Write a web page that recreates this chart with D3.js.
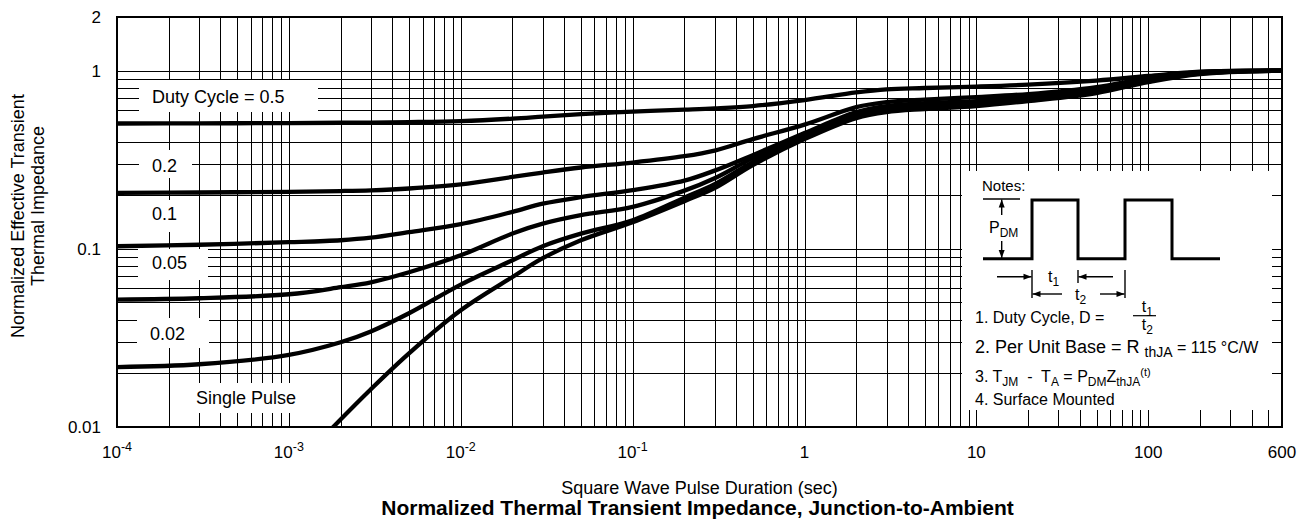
<!DOCTYPE html>
<html><head><meta charset="utf-8">
<script src="https://cdn.jsdelivr.net/npm/d3@7"></script>
<style>
body{margin:0;background:#fff}
text{font-family:"Liberation Sans",Arial,Helvetica,sans-serif;fill:#000;white-space:pre}
</style>
</head><body>
<svg id="chart" width="1307" height="527"></svg>
<script>
// ---------- data ----------
const pulseTimes = [1e-4,3e-4,1e-3,2e-3,3e-3,5e-3,1e-2,2e-2,3e-2,5e-2,0.1,0.2,0.3,0.5,1,2,3,5,10,20,50,100,200,600];
const duty05  = [0.505,0.506,0.508,0.510,0.511,0.514,0.521,0.538,0.552,0.570,0.589,0.604,0.614,0.633,0.684,0.755,0.786,0.799,0.814,0.835,0.880,0.933,0.986,1.0];
const duty02  = [0.206,0.207,0.209,0.211,0.213,0.218,0.230,0.253,0.268,0.286,0.305,0.331,0.356,0.413,0.498,0.624,0.666,0.688,0.711,0.739,0.809,0.909,0.982,1.0];
const duty01  = [0.1034,0.1054,0.1089,0.1117,0.1154,0.124,0.1375,0.1612,0.1792,0.195,0.2134,0.2413,0.2747,0.3356,0.4461,0.5854,0.6327,0.6577,0.6749,0.7107,0.788,0.897,0.976,1.0];
const duty005 = [0.0519,0.0528,0.0556,0.0609,0.0649,0.0739,0.092,0.1219,0.1384,0.1545,0.1719,0.2121,0.2491,0.3228,0.4347,0.5704,0.6165,0.6408,0.6577,0.6924,0.768,0.8856,0.9694,1.0];
const duty002 = [0.0217,0.0225,0.0254,0.0299,0.0344,0.0435,0.063,0.0863,0.1034,0.1216,0.1448,0.1937,0.2306,0.3066,0.4236,0.5557,0.6007,0.6244,0.6451,0.6836,0.7585,0.874,0.963,1.0];
const singleTimes = [0.0018,3e-3,5e-3,1e-2,2e-2,3e-2,5e-2,0.1,0.2,0.3,0.5,1,2,3,5,10,20,50,100,200,600];
const singlePulse = [0.00995,0.0163,0.0259,0.0452,0.0695,0.0886,0.1117,0.1411,0.1851,0.219,0.2949,0.4127,0.5417,0.5854,0.6086,0.6327,0.6749,0.7484,0.863,0.957,1.0];

const curveLabels = ["Duty Cycle = 0.5","0.2","0.1","0.05","0.02","Single Pulse"];
const xTickValues = [1e-4,1e-3,1e-2,1e-1,1,10,100,600];
const xTickBase   = ["10","10","10","10","1","10","100","600"];
const xTickExp    = ["-4","-3","-2","-1","","","",""];
const yTickValues = [0.01,0.1,1,2];
const yTickLabels = ["0.01","0.1","1","2"];

// ---------- layout ----------
const svg = d3.select("#chart");
const L = 117, R = 1282, T = 17, B = 427;
const x = d3.scaleLog().domain([1e-4,600]).range([L,R]);
const y = d3.scaleLog().domain([0.01,2]).range([B,T]);

// grid values
const xGrid = [];
[1e-4,1e-3,1e-2,1e-1,1,10,100].forEach(d=>{for(let k=1;k<=9;k++){const v=k*d; if(v<=600.0001) xGrid.push(v);}});
xGrid.push(600);
const yGrid = [];
[0.01,0.1].forEach(d=>{for(let k=1;k<=9;k++) yGrid.push(k*d);});
yGrid.push(1);

const gx = svg.append("g").attr("transform",`translate(0,${B})`)
  .call(d3.axisBottom(x).tickValues(xGrid).tickSize(-(B-T)).tickFormat(""));
gx.select(".domain").remove();
gx.selectAll("line").attr("stroke","#000").attr("stroke-width",1).attr("shape-rendering","crispEdges");

const gy = svg.append("g").attr("transform",`translate(${L},0)`)
  .call(d3.axisLeft(y).tickValues(yGrid).tickSize(-(R-L)).tickFormat(""));
gy.select(".domain").remove();
gy.selectAll("line").attr("stroke","#000").attr("stroke-width",1).attr("shape-rendering","crispEdges");

// white label boxes that interrupt the grid
const boxes = [
  {x:139,y:80,w:179,h:32},
  {x:139,y:150,w:53,h:28},
  {x:139,y:200,w:53,h:32},
  {x:138,y:249,w:70,h:31},
  {x:137,y:318,w:72,h:30},
  {x:190,y:383,w:113,h:30}
];
const labelPos = [
  {x:152,y:103},{x:152,y:171.5},{x:152,y:220},{x:152,y:268.5},{x:150,y:340},{x:196,y:403.5}
];
svg.append("g").selectAll("rect").data(boxes).join("rect")
  .attr("x",d=>d.x).attr("y",d=>d.y).attr("width",d=>d.w).attr("height",d=>d.h).attr("fill","#fff");
svg.append("g").selectAll("text").data(curveLabels).join("text")
  .attr("x",(d,i)=>labelPos[i].x).attr("y",(d,i)=>labelPos[i].y)
  .attr("font-size",18).text(d=>d);

// notes box background
const NX = 962, NY = 171;
svg.append("rect").attr("x",NX).attr("y",NY).attr("width",310).attr("height",239).attr("fill","#fff");

// curves
svg.append("clipPath").attr("id","clip").append("rect").attr("x",L).attr("y",T).attr("width",R-L).attr("height",B-T);
const line = d3.line().x(d=>x(d[0])).y(d=>y(d[1])).curve(d3.curveCatmullRom.alpha(0.5));
const series = [duty05,duty02,duty01,duty005,duty002].map(arr=>pulseTimes.map((t,i)=>[t,arr[i]]));
series.push(singleTimes.map((t,i)=>[t,singlePulse[i]]));
svg.append("g").attr("clip-path","url(#clip)").selectAll("path").data(series).join("path")
  .attr("d",line).attr("fill","none").attr("stroke","#000").attr("stroke-width",4.3).attr("stroke-linejoin","round");

// frame
svg.append("rect").attr("x",L).attr("y",T).attr("width",R-L).attr("height",B-T)
  .attr("fill","none").attr("stroke","#000").attr("stroke-width",2);

// y tick labels
svg.append("g").selectAll("text").data(yTickValues).join("text")
  .attr("x",101).attr("y",d=>y(d)+6).attr("text-anchor","end").attr("font-size",17)
  .text((d,i)=>yTickLabels[i]);

// x tick labels
const xl = svg.append("g").selectAll("text").data(xTickValues).join("text")
  .attr("x",d=>x(d)).attr("y",458).attr("text-anchor","middle").attr("font-size",17);
xl.append("tspan").text((d,i)=>xTickBase[i]);
xl.filter((d,i)=>xTickExp[i]!=="").append("tspan").attr("dy",-7).attr("font-size",12.5)
  .text(d=>xTickExp[xTickValues.indexOf(d)]);

// axis titles
svg.append("text").attr("x",(L+R)/2).attr("y",494).attr("text-anchor","middle").attr("font-size",18)
  .text("Square Wave Pulse Duration (sec)");
svg.append("text").attr("x",(L+R)/2-2).attr("y",515).attr("text-anchor","middle").attr("font-size",21)
  .attr("font-weight","bold").text("Normalized Thermal Transient Impedance, Junction-to-Ambient");
svg.append("text").attr("transform","translate(23.5,216) rotate(-90)").attr("text-anchor","middle")
  .attr("font-size",18).text("Normalized Effective Transient");
svg.append("text").attr("transform","translate(43.5,206) rotate(-90)").attr("text-anchor","middle")
  .attr("font-size",18).text("Thermal Impedance");

// ---------- notes ----------
const g = svg.append("g").attr("transform",`translate(${NX},${NY})`);
function rich(px,py,size,parts){
  const t = g.append("text").attr("x",px).attr("y",py).attr("font-size",size);
  let cur = 0;
  parts.forEach(p=>{
    const off = p[1]==="sub"?4:(p[1]==="sup"?-6:0);
    const ts = t.append("tspan").attr("dy",off-cur).text(p[0]);
    if(p[2]) ts.attr("font-size",p[2]);
    cur = off;
  });
  return t;
}
function arrow(x1,y1,x2,y2){
  g.append("line").attr("x1",x1).attr("y1",y1).attr("x2",x2).attr("y2",y2).attr("stroke","#000").attr("stroke-width",1.4);
  const a = Math.atan2(y2-y1,x2-x1), len=8, wid=3;
  const bx = x2-len*Math.cos(a), by = y2-len*Math.sin(a);
  const px = -Math.sin(a)*wid, py = Math.cos(a)*wid;
  g.append("path").attr("d",`M${x2},${y2}L${bx+px},${by+py}L${bx-px},${by-py}Z`).attr("fill","#000");
}
rich(20,19.7,15,[["Notes:"]]);
// waveform
g.append("path").attr("d","M21,87.7H70V29H116V87.7H163V29H210V87.7H258")
  .attr("fill","none").attr("stroke","#000").attr("stroke-width",3).attr("stroke-linejoin","miter");
// P_DM
g.append("line").attr("x1",21).attr("x2",58).attr("y1",28).attr("y2",28).attr("stroke","#000").attr("stroke-width",1.4);
arrow(39.7,44,39.7,28.5);
arrow(39.7,70,39.7,87);
rich(27,62.3,16,[["P"],["DM","sub",12]]);
// t1, t2
[[70,99,127],[116,99,112],[163,99,127]].forEach(v=>{
  g.append("line").attr("x1",v[0]).attr("x2",v[0]).attr("y1",v[1]).attr("y2",v[2]).attr("stroke","#000").attr("stroke-width",1.4);
});
arrow(35,105.7,69.5,105.7);
arrow(151,105.7,116.5,105.7);
arrow(100,123,70.5,123);
arrow(138,123,162.5,123);
rich(86,110.7,16,[["t"],["1","sub",12]]);
rich(113,129,16,[["t"],["2","sub",12]]);
// notes text
rich(13,151.7,16,[["1. Duty Cycle, D ="]]);
rich(179.7,140.7,16,[["t"],["1","sub",12]]);
g.append("line").attr("x1",171).attr("x2",194).attr("y1",144.7).attr("y2",144.7).attr("stroke","#000").attr("stroke-width",1.2);
rich(179.7,159,16,[["t"],["2","sub",12]]);
rich(13,182.3,18,[["2. Per Unit Base = R "],["thJA","sub",14],[" = 115 °C/W",null,16]]);
rich(13,210.7,16,[["3. T"],["JM","sub",12],["  -  T"],["A","sub",12],[" = P"],["DM","sub",12],["Z"],["thJA","sub",12],["(t)","sup",11]]);
rich(13,234,16,[["4. Surface Mounted"]]);
</script>
</body></html>
